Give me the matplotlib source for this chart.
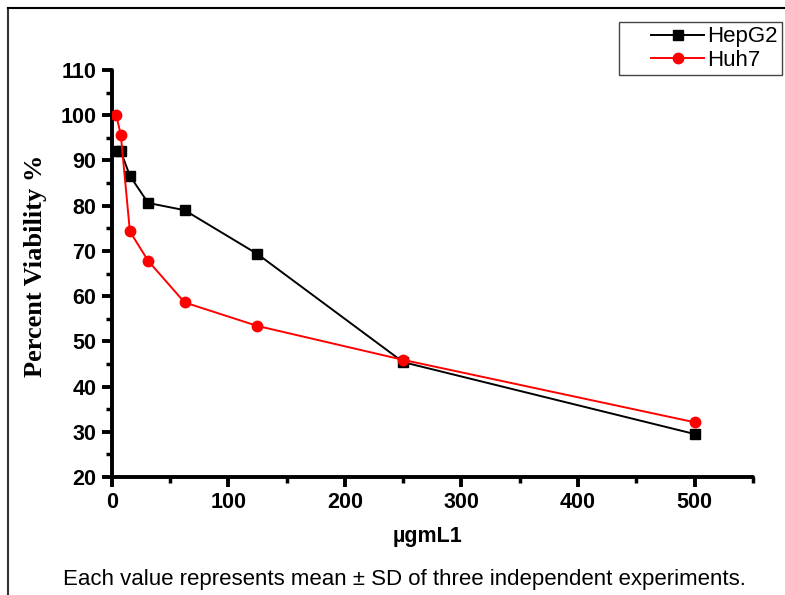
import matplotlib
matplotlib.use("Agg")
import matplotlib.pyplot as plt
from matplotlib.lines import Line2D
from matplotlib.ticker import MultipleLocator
from matplotlib.legend_handler import HandlerLine2D

conc = [3.9, 7.8, 15.6, 31.25, 62.5, 125, 250, 500]
hepg2 = [92.0, 92.0, 86.6, 80.6, 79.0, 69.3, 45.4, 29.5]
huh7 = [100.0, 95.7, 74.3, 67.8, 58.6, 53.4, 45.9, 32.1]
xticks = [0, 100, 200, 300, 400, 500]
yticks = [20, 30, 40, 50, 60, 70, 80, 90, 100, 110]

W, H = 785, 595
fig = plt.figure(figsize=(W / 100, H / 100), dpi=100)
ax = fig.add_axes([111.7 / W, 1 - 477 / H, (753 - 111.7) / W, (477 - 70) / H])

l1, = ax.plot(conc, hepg2, color="black", marker="s", markersize=7, lw=1.4, label="HepG2", zorder=3)
l2, = ax.plot(conc, huh7, color="red", marker="o", markersize=7.5, lw=1.4, label="Huh7", zorder=3)

ax.set_xlim(0, 550)
ax.set_ylim(20, 110)
ax.set_xticks(xticks)
ax.set_yticks(yticks)
ax.xaxis.set_minor_locator(MultipleLocator(50))
ax.yaxis.set_minor_locator(MultipleLocator(5))
for s in ["top", "right"]:
    ax.spines[s].set_visible(False)
for s in ["left", "bottom"]:
    ax.spines[s].set_linewidth(2.8)
    ax.spines[s].set_capstyle("round")
ax.tick_params(which="major", direction="out", length=7, width=2.8, pad=4)
ax.tick_params(which="minor", direction="out", length=4, width=2.5)
for lab in ax.get_xticklabels() + ax.get_yticklabels():
    lab.set_fontfamily("Liberation Sans")
    lab.set_fontweight("bold")
    lab.set_fontsize(15.5)

ax.set_ylabel("Percent Viability %", fontfamily="Liberation Serif", fontweight="bold",
              fontsize=19, labelpad=10, y=0.518)
ax.set_xlabel("µgmL1", fontfamily="Liberation Sans", fontweight="bold", fontsize=15.5,
              labelpad=9, x=0.493)

hm = {l1: HandlerLine2D(xpad=1.27), l2: HandlerLine2D(xpad=1.27)}
leg = ax.legend(handles=[l1, l2], handler_map=hm, loc="upper right",
                bbox_to_anchor=(782 / W, 1 - 22 / H),
                bbox_transform=fig.transFigure, fancybox=False, framealpha=1,
                edgecolor="#444444", prop={"family": "Liberation Sans", "size": 16},
                handlelength=3.63, borderpad=0.2, labelspacing=0.1, handletextpad=0.15,
                borderaxespad=0)
leg.get_frame().set_linewidth(1.0)

fig.text(404 / W, 1 - 580 / H,
         "Each value represents mean ± SD of three independent experiments.",
         ha="center", va="center", fontfamily="Liberation Sans", fontsize=16)

fig.add_artist(Line2D([7.5 / W, 7.5 / W], [0, 1 - 8 / H], transform=fig.transFigure,
                      color="#333333", lw=1.5))
fig.add_artist(Line2D([7.5 / W, 1], [1 - 8 / H, 1 - 8 / H], transform=fig.transFigure,
                      color="black", lw=1.5))

fig.savefig("out.png", dpi=100)
